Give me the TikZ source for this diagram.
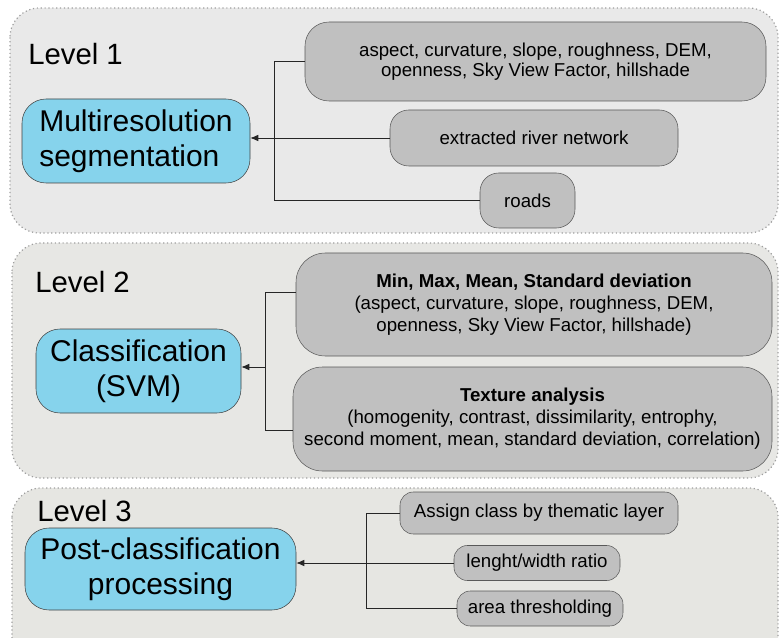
\documentclass[tikz,border=0pt]{standalone}
\usepackage{fontspec}
\setmainfont{Liberation Sans}
\usetikzlibrary{arrows.meta}

\definecolor{panelone}{RGB}{233,233,233}
\definecolor{paneltwo}{RGB}{231,231,228}
\definecolor{panelthree}{RGB}{230,230,226}
\definecolor{taskblue}{RGB}{134,211,236}
\definecolor{inputgray}{RGB}{192,192,192}

\begin{document}
\begin{tikzpicture}[x=0.75pt, y=-0.75pt, >={Latex[length=6pt,width=5pt]},
    sz/.style 2 args={minimum width=#1*0.75pt, minimum height=#2*0.75pt},
    panel/.style={draw=gray!75, dotted, line width=0.9pt, rounded corners=22pt},
    level/.style={anchor=base west, inner sep=0pt, font=\fontsize{22}{26}\selectfont},
    task/.style={draw=black!75, fill=taskblue, rounded corners=18pt, align=center,
        inner sep=0pt, font=\fontsize{22.5}{26}\selectfont},
    input/.style={draw=black!65, fill=inputgray, rounded corners=#1, align=center,
        inner sep=0pt, font=\fontsize{14}{16.5}\selectfont},
    input/.default=14pt,
    link/.style={draw=black!85, line width=0.65pt}]
    \useasboundingbox (0,0) rectangle (779,638);
    \clip (0,0) rectangle (779,638);

    % the three level panels
    \draw[panel, fill=panelone] (10,8) rectangle (778,233);
    \draw[panel, fill=paneltwo] (12,243) rectangle (778,478);
    \draw[panel, fill=panelthree] (12,488) rectangle (778,680);

    % level 1
    \node[level] (lvl1) at (28,65) {Level 1};
    \node[task, sz={228}{84}, align=left] (seg) at (136,141) {Multiresolution\\segmentation};
    \node[input=18pt, sz={461}{79}, font=\fontsize{14}{15}\selectfont] (terrain) at (535.5,61.5)
        {aspect, curvature, slope, roughness, DEM,\\openness, Sky View Factor, hillshade};
    \node[input, sz={288}{56}] (river) at (534,138) {extracted river network};
    \node[input, sz={95}{55}] (roads) at (527.5,200.5) {roads};
    \coordinate (j1t) at (274,61.5);
    \coordinate (j1b) at (274,200.5);
    \draw[link] (terrain.west) -- (j1t) -- (j1b) -- (roads.west);
    \draw[link, ->] (river.west) -- (river.west -| seg.east);

    % level 2
    \node[level] (lvl2) at (35,293) {Level 2};
    \node[task, sz={205}{84}] (svm) at (138.5,371) {Classification\\(SVM)};
    \node[input=22pt, sz={476}{103}] (stats) at (534,304.5)
        {\textbf{Min, Max, Mean, Standard deviation}\\(aspect, curvature, slope, roughness, DEM,\\openness, Sky View Factor, hillshade)};
    \node[input=22pt, sz={479}{104}] (texture) at (532.5,419)
        {\textbf{Texture analysis}\\(homogenity, contrast, dissimilarity, entrophy,\\second moment, mean, standard deviation, correlation)};
    \coordinate (j2t) at (265,292);
    \coordinate (j2m) at (265,367);
    \coordinate (j2b) at (265,430);
    \draw[link] (stats.west |- j2t) -- (j2t) -- (j2b) -- (texture.west |- j2b);
    \draw[link, ->] (j2m) -- (j2m -| svm.east);

    % level 3
    \node[level] (lvl3) at (37,521) {Level 3};
    \node[task, sz={271}{82}] (post) at (160.5,569) {Post-classification\\processing};
    \node[input=10pt, sz={278}{42}] (assign) at (539,513) {Assign class by thematic layer};
    \node[input=10pt, sz={166}{35}] (ratio) at (537,563) {lenght/width ratio};
    \node[input=10pt, sz={166}{35}] (area) at (540,608.5) {area thresholding};
    \coordinate (j3t) at (366,513);
    \coordinate (j3b) at (366,608.5);
    \draw[link] (assign.west) -- (j3t) -- (j3b) -- (area.west);
    \draw[link, ->] (ratio.west) -- (ratio.west -| post.east);
\end{tikzpicture}
\end{document}
